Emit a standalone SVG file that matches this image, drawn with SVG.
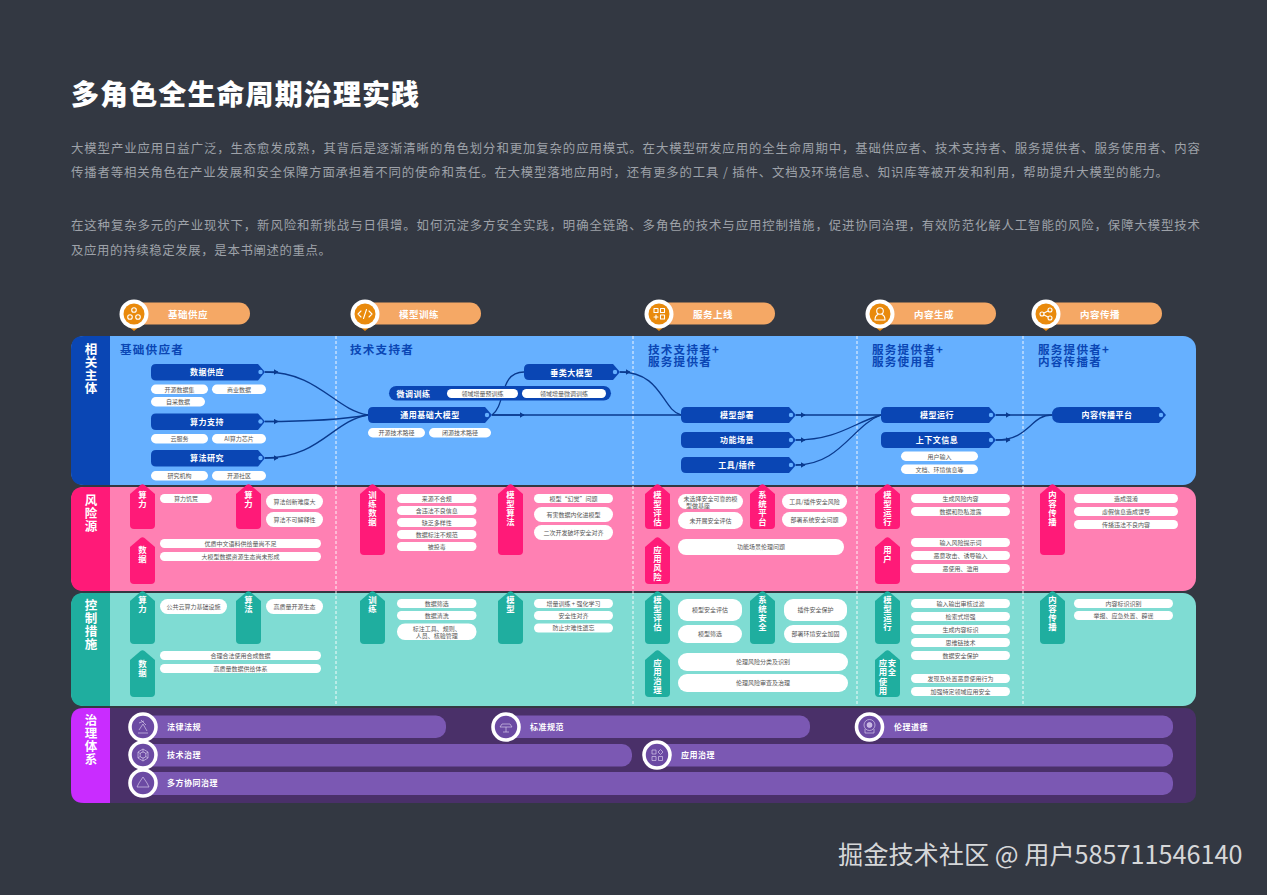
<svg xmlns="http://www.w3.org/2000/svg" xmlns:xlink="http://www.w3.org/1999/xlink" width="1267" height="895" viewBox="0 0 1267 895">
<style>
text{font-family:"Noto Sans CJK SC","Noto Sans",sans-serif}
.title{font-size:28px;font-weight:900;fill:#fff;letter-spacing:1.1px}
.para{font-size:12.4px;fill:#9ea2a9}
.wm{font-size:25.2px;fill:#d6d7d9}
.cat{font-size:9.5px;font-weight:700;fill:#fff;text-anchor:middle;dominant-baseline:central;letter-spacing:.5px}
.pill{fill:#f5a865}
.pin{fill:#e98a0c}
.ring{fill:#fff}
.disc{fill:#e98a0c}
.ico{fill:none;stroke:#fff;stroke-width:1.1;stroke-linecap:round;stroke-linejoin:round}
.role{font-size:11.6px;font-weight:700;fill:#0a46b4;letter-spacing:1.2px}
.head{font-size:12.5px;font-weight:700;fill:#fff;writing-mode:vertical-rl;letter-spacing:.4px}
.n{fill:#0a46b4}
.hole{fill:#66b0ff}
.nt{font-size:8px;font-weight:700;fill:#fff;text-anchor:middle;dominant-baseline:central;letter-spacing:.5px}
.c{fill:#fff}
.ct{font-size:6px;fill:#555;text-anchor:middle;dominant-baseline:central}
.pt{fill:#ff1a78}
.tt{fill:#1fae9f}
.vt{font-size:8.4px;font-weight:700;fill:#fff;writing-mode:vertical-rl;letter-spacing:.6px}
.dash{stroke:#fff;stroke-width:1;stroke-dasharray:3 2;fill:none;opacity:.9}
.conn path{fill:none;stroke:#0a3a8e;stroke-width:1.3}
.bar{fill:#7b58b3}
.pring{fill:none;stroke:#fff;stroke-width:3.6}
.pdisc{fill:#6b4aa3}
.pico{fill:none;stroke:#d5c8ea;stroke-width:.7}
.gt{font-size:8px;font-weight:700;fill:#fff;dominant-baseline:central;letter-spacing:.5px}
</style>
<defs>
<path id="t45" d="M10.500 1 Q12.500 -.5 14.500 1 L25 10 V41 Q25 45 21 45 H4 Q0 45 0 41 V10 Z"/>
<path id="t71" d="M10.500 1 Q12.500 -.5 14.500 1 L25 10 V67 Q25 71 21 71 H4 Q0 71 0 67 V10 Z"/>
<path id="t47" d="M10.500 1 Q12.500 -.5 14.500 1 L25 10 V43 Q25 47 21 47 H4 Q0 47 0 43 V10 Z"/>
<path id="t53" d="M10.500 1 Q12.500 -.5 14.500 1 L25 10 V49 Q25 53 21 53 H4 Q0 53 0 49 V10 Z"/>
<marker id="arr" markerWidth="5" markerHeight="6" refX="4.500" refY="3" orient="auto" markerUnits="userSpaceOnUse"><path d="M0 0 L5 3 L0 6 Z" fill="#0a3a8e"/></marker>
</defs>
<rect width="1267" height="895" fill="#333842"/>
<text class="title" x="71" y="105">多角色全生命周期治理实践</text>
<text class="para" x="71" y="153" textLength="1129">大模型产业应用日益广泛，生态愈发成熟，其背后是逐渐清晰的角色划分和更加复杂的应用模式。在大模型研发应用的全生命周期中，基础供应者、技术支持者、服务提供者、服务使用者、内容</text>
<text class="para" x="71" y="177" textLength="1097">传播者等相关角色在产业发展和安全保障方面承担着不同的使命和责任。在大模型落地应用时，还有更多的工具 / 插件、文档及环境信息、知识库等被开发和利用，帮助提升大模型的能力。</text>
<text class="para" x="71" y="230" textLength="1129">在这种复杂多元的产业现状下，新风险和新挑战与日俱增。如何沉淀多方安全实践，明确全链路、多角色的技术与应用控制措施，促进协同治理，有效防范化解人工智能的风险，保障大模型技术</text>
<text class="para" x="71" y="255" textLength="260">及应用的持续稳定发展，是本书阐述的重点。</text>

<g id="stage-1"><rect class="pill" x="128" y="302.500" width="122" height="22" rx="11"/><path class="pin" d="M128 326 H140 L134 331 Z"/><circle class="ring" cx="134" cy="314" r="14.500"/><circle class="disc" cx="134" cy="314" r="10.500"/><g class="ico"><circle cx="134" cy="310" r="2.300"/><circle cx="130" cy="317" r="2.300"/><circle cx="138" cy="317" r="2.300"/></g><text class="cat" x="188" y="313.500">基础供应</text></g>
<g id="stage-2"><rect class="pill" x="359" y="302.500" width="122" height="22" rx="11"/><path class="pin" d="M359 326 H371 L365 331 Z"/><circle class="ring" cx="365" cy="314" r="14.500"/><circle class="disc" cx="365" cy="314" r="10.500"/><path class="ico" d="M361 311 L358 314 L361 317 M369 311 L372 314 L369 317 M366.500 309.500 L363.500 318.500"/><text class="cat" x="419" y="313.500">模型训练</text></g>
<g id="stage-3"><rect class="pill" x="653" y="302.500" width="122" height="22" rx="11"/><path class="pin" d="M653 326 H665 L659 331 Z"/><circle class="ring" cx="659" cy="314" r="14.500"/><circle class="disc" cx="659" cy="314" r="10.500"/><path class="ico" d="M654 308.500 h4 v4 h-4z M660.500 308.500 h4 v4 h-4z M660.500 315 h4 v4 h-4z M656 315 v4 M654 317 h4"/><text class="cat" x="713" y="313.500">服务上线</text></g>
<g id="stage-4"><rect class="pill" x="874" y="302.500" width="122" height="22" rx="11"/><path class="pin" d="M874 326 H886 L880 331 Z"/><circle class="ring" cx="880" cy="314" r="14.500"/><circle class="disc" cx="880" cy="314" r="10.500"/><g class="ico"><circle cx="880" cy="311" r="3.300"/><path d="M875 320 Q875 315.500 878 314.500 M885 320 Q885 315.500 882 314.500 M875 320 H885"/></g><text class="cat" x="934" y="313.500">内容生成</text></g>
<g id="stage-5"><rect class="pill" x="1040" y="302.500" width="122" height="22" rx="11"/><path class="pin" d="M1040 326 H1052 L1046 331 Z"/><circle class="ring" cx="1046" cy="314" r="14.500"/><circle class="disc" cx="1046" cy="314" r="10.500"/><g class="ico"><circle cx="1042" cy="314" r="2"/><circle cx="1050" cy="310" r="2"/><circle cx="1050" cy="318" r="2"/><path d="M1044 313 L1048 311 M1044 315 L1048 317"/></g><text class="cat" x="1100" y="313.500">内容传播</text></g>

<g id="bands">
<rect x="71" y="336" width="1125" height="149" rx="13" fill="#66b0ff"/>
<path d="M110 336 H84 Q71 336 71 349 V472 Q71 485 84 485 H110 Z" fill="#0a46b4"/>
<rect x="71" y="487" width="1125" height="104" rx="13" fill="#ff80b3"/>
<path d="M110 487 H84 Q71 487 71 500 V578 Q71 591 84 591 H110 Z" fill="#ff1a78"/>
<rect x="71" y="593" width="1125" height="113" rx="13" fill="#7fdcd3"/>
<path d="M110 593 H84 Q71 593 71 606 V693 Q71 706 84 706 H110 Z" fill="#1fae9f"/>
<rect x="71" y="708" width="1125" height="95" rx="10" fill="#4a3069"/>
<path d="M110 708 H84 Q71 708 71 721 V790 Q71 803 84 803 H110 Z" fill="#c92cff"/>
<text class="head" x="91" y="343">相关主体</text>
<text class="head" x="91" y="494">风险源</text>
<text class="head" x="91" y="599">控制措施</text>
<text class="head" x="91" y="714">治理体系</text>
</g>
<g id="dividers">
<path class="dash" d="M336 336 V706 M633 336 V706 M857 336 V706 M1023 336 V706"/>
</g>

<g id="roles">
<text class="role" x="120" y="354">基础供应者</text>
<text class="role" x="350" y="354">技术支持者</text>
<text class="role" x="648" y="354">技术支持者+<tspan x="648" dy="12.300">服务提供者</tspan></text>
<text class="role" x="872" y="354">服务提供者+<tspan x="872" dy="12.300">服务使用者</tspan></text>
<text class="role" x="1038" y="354">服务提供者+<tspan x="1038" dy="12.300">内容传播者</tspan></text>
</g>

<g id="connectors" class="conn">
<path d="M265 372 C318 372 335 410 368 415"/><path d="M265 372 H278" marker-end="url(#arr)"/>
<path d="M265 421.500 C300 421.500 340 420 368 415"/><path d="M265 421.500 H278" marker-end="url(#arr)"/>
<path d="M265 458 C320 458 332 421 368 415"/><path d="M265 458 H278" marker-end="url(#arr)"/>
<path d="M492 415 C506 405 499 372 524 372"/>
<path d="M492 415 H681"/><path d="M492 415 H524" marker-end="url(#arr)"/>
<path d="M620 372 C662 372 662 410 681 415"/><path d="M620 372 H630" marker-end="url(#arr)"/>
<path d="M796 415 H881"/><path d="M796 415 H805" marker-end="url(#arr)"/>
<path d="M796 440 C838 440 855 422 881 415"/><path d="M796 440 H805" marker-end="url(#arr)"/>
<path d="M796 465 C840 465 853 425 881 415"/><path d="M796 465 H805" marker-end="url(#arr)"/>
<path d="M996 415 H1052"/><path d="M996 415 H1010" marker-end="url(#arr)"/>
<path d="M996 440 C1030 440 1030 415 1052 415"/><path d="M996 440 H1010" marker-end="url(#arr)"/>
</g>

<g id="node-data-supply"><path class="n" d="M156 364 H258 L265 372 L258 380.500 H156 Q151 380.500 151 375.500 V369 Q151 364 156 364Z"/><circle class="hole" cx="260.500" cy="372" r="2.200"/><text class="nt" x="207" y="371.500">数据供应</text>
<rect class="c" x="151" y="384.500" width="57" height="9.500" rx="4.750"/><text class="ct" x="179.500" y="389.200">开源数据集</text>
<rect class="c" x="212" y="384.500" width="54" height="9.500" rx="4.750"/><text class="ct" x="239" y="389.200">商业数据</text>
<rect class="c" x="151" y="397" width="54" height="9.500" rx="4.750"/><text class="ct" x="178" y="401.700">自采数据</text></g>
<g id="node-compute"><path class="n" d="M156 413.500 H258 L265 421.500 L258 430 H156 Q151 430 151 425 V418.500 Q151 413.500 156 413.500Z"/><circle class="hole" cx="260.500" cy="421.500" r="2.200"/><text class="nt" x="207" y="421">算力支持</text>
<rect class="c" x="151" y="434" width="57" height="9.500" rx="4.750"/><text class="ct" x="179.500" y="438.700">云服务</text>
<rect class="c" x="212" y="434" width="54" height="9.500" rx="4.750"/><text class="ct" x="239" y="438.700">AI算力芯片</text></g>
<g id="node-algorithm"><path class="n" d="M156 450 H258 L265 458 L258 466.500 H156 Q151 466.500 151 461.500 V455 Q151 450 156 450Z"/><circle class="hole" cx="260.500" cy="458" r="2.200"/><text class="nt" x="207" y="457.500">算法研究</text>
<rect class="c" x="151" y="471" width="57" height="9.500" rx="4.750"/><text class="ct" x="179.500" y="475.700">研究机构</text>
<rect class="c" x="212" y="471" width="54" height="9.500" rx="4.750"/><text class="ct" x="239" y="475.700">开源社区</text></g>

<g id="node-finetune"><rect class="n" x="389" y="386" width="222" height="14.500" rx="7.250"/><text class="nt" x="413.500" y="393">微调训练</text>
<rect class="c" x="447" y="389" width="71" height="9" rx="4.500"/><text class="ct" x="482.500" y="393.400">领域增量预训练</text>
<rect class="c" x="522" y="389" width="84" height="9" rx="4.500"/><text class="ct" x="564" y="393.400">领域增量微调训练</text></g>
<g id="node-base-model"><path class="n" d="M373 407 H485 L492 415 L485 423 H373 Q368 423 368 418 V412 Q368 407 373 407Z"/><circle class="hole" cx="487" cy="415" r="2.200"/><text class="nt" x="430" y="414.500">通用基础大模型</text>
<rect class="c" x="368" y="428" width="57" height="9.500" rx="4.750"/><text class="ct" x="396.500" y="432.700">开源技术路径</text>
<rect class="c" x="429" y="428" width="62" height="9.500" rx="4.750"/><text class="ct" x="460" y="432.700">闭源技术路径</text></g>
<g id="node-vertical-model"><path class="n" d="M529 364 H613 L620 372 L613 380 H529 Q524 380 524 375 V369 Q524 364 529 364Z"/><circle class="hole" cx="615" cy="372" r="2.200"/><text class="nt" x="571.500" y="372">垂类大模型</text></g>

<g id="node-deploy"><path class="n" d="M686 407 H789 L796 415 L789 423 H686 Q681 423 681 418 V412 Q681 407 686 407Z"/><circle class="hole" cx="791" cy="415" r="2.200"/><text class="nt" x="737" y="414.500">模型部署</text></g>
<g id="node-scenario"><path class="n" d="M686 432 H789 L796 440 L789 448 H686 Q681 448 681 443 V437 Q681 432 686 432Z"/><circle class="hole" cx="791" cy="440" r="2.200"/><text class="nt" x="737" y="439.500">功能场景</text></g>
<g id="node-tools"><path class="n" d="M686 457 H789 L796 465 L789 473 H686 Q681 473 681 468 V462 Q681 457 686 457Z"/><circle class="hole" cx="791" cy="465" r="2.200"/><text class="nt" x="737" y="464.500">工具/插件</text></g>
<g id="node-run"><path class="n" d="M886 407 H989 L996 415 L989 423 H886 Q881 423 881 418 V412 Q881 407 886 407Z"/><circle class="hole" cx="991" cy="415" r="2.200"/><text class="nt" x="937" y="414.500">模型运行</text></g>
<g id="node-context"><path class="n" d="M886 432 H989 L996 440 L989 448 H886 Q881 448 881 443 V437 Q881 432 886 432Z"/><circle class="hole" cx="991" cy="440" r="2.200"/><text class="nt" x="937" y="439.500">上下文信息</text>
<rect class="c" x="901" y="451.500" width="77" height="9.500" rx="4.750"/><text class="ct" x="939.500" y="456.200">用户输入</text>
<rect class="c" x="901" y="464.500" width="77" height="9.500" rx="4.750"/><text class="ct" x="939.500" y="469.200">文档、环境信息等</text></g>
<g id="node-platform"><path class="n" d="M1060 407 H1159 L1166 415 L1159 423 H1060 Q1052 423 1052 415 Q1052 407 1060 407Z"/><circle class="hole" cx="1161" cy="415" r="2.200"/><text class="nt" x="1107" y="414.500">内容传播平台</text></g>

<g id="risk-tags" class="pt">
<use href="#t45" x="130" y="484"/><use href="#t45" x="236" y="484"/><use href="#t47" x="130" y="537"/>
<use href="#t71" x="360" y="484"/><use href="#t71" x="498" y="484"/>
<use href="#t45" x="645" y="484"/><use href="#t45" x="750" y="484"/><use href="#t47" x="645" y="537"/>
<use href="#t45" x="875" y="484"/><use href="#t47" x="875" y="537"/><use href="#t71" x="1040" y="484"/>
</g>
<g id="risk-tag-labels">
<text class="vt" x="142.500" y="491">算力</text><text class="vt" x="248.500" y="491">算力</text><text class="vt" x="142.500" y="545.500">数据</text>
<text class="vt" x="372.500" y="491">训练数据</text><text class="vt" x="510.500" y="491">模型算法</text>
<text class="vt" x="657.500" y="491">模型评估</text><text class="vt" x="762.500" y="491">系统平台</text><text class="vt" x="657.500" y="545.500">应用风险</text>
<text class="vt" x="887.500" y="491">模型运行</text><text class="vt" x="887.500" y="545.500">用户</text><text class="vt" x="1052.500" y="491">内容传播</text>
</g>
<g id="risk-items">
<rect class="c" x="160" y="494" width="52" height="9" rx="4.500"/><text class="ct" x="186" y="498.400">算力饥荒</text>
<rect class="c" x="266" y="494" width="57" height="15" rx="7.500"/><text class="ct" x="294.500" y="501.400">算法创新难度大</text>
<rect class="c" x="266" y="512" width="57" height="15" rx="7.500"/><text class="ct" x="294.500" y="519.400">算法不可解释性</text>
<rect class="c" x="160" y="539" width="161" height="9" rx="4.500"/><text class="ct" x="240.500" y="543.400">优质中文语料供给量尚不足</text>
<rect class="c" x="160" y="552" width="161" height="9" rx="4.500"/><text class="ct" x="240.500" y="556.400">大模型数据资源生态尚未形成</text>
<rect class="c" x="397" y="494" width="79.500" height="9" rx="4.500"/><text class="ct" x="436.700" y="498.400">来源不合规</text>
<rect class="c" x="397" y="506" width="79.500" height="9" rx="4.500"/><text class="ct" x="436.700" y="510.400">含违法不良信息</text>
<rect class="c" x="397" y="518" width="79.500" height="9" rx="4.500"/><text class="ct" x="436.700" y="522.400">缺乏多样性</text>
<rect class="c" x="397" y="530" width="79.500" height="9" rx="4.500"/><text class="ct" x="436.700" y="534.400">数据标注不规范</text>
<rect class="c" x="397" y="542" width="79.500" height="9" rx="4.500"/><text class="ct" x="436.700" y="546.400">被投毒</text>
<rect class="c" x="534" y="494" width="79" height="9" rx="4.500"/><text class="ct" x="573.500" y="498.400">模型“幻觉”问题</text>
<rect class="c" x="534" y="507" width="79" height="15" rx="7.500"/><text class="ct" x="573.500" y="514.400">有害数据内化进模型</text>
<rect class="c" x="534" y="525" width="79" height="15" rx="7.500"/><text class="ct" x="573.500" y="532.400">二次开发破坏安全对齐</text>
<rect class="c" x="678" y="494" width="65" height="15" rx="7.500"/><text class="ct" x="710.500" y="498.200">未选择安全可靠的模</text><text class="ct" x="698" y="505">型做基座</text>
<rect class="c" x="678" y="512" width="65" height="17" rx="8.500"/><text class="ct" x="710.500" y="520.400">未开展安全评估</text>
<rect class="c" x="782" y="494" width="65" height="15" rx="7.500"/><text class="ct" x="814.500" y="501.400">工具/插件安全风险</text>
<rect class="c" x="782" y="512" width="65" height="15" rx="7.500"/><text class="ct" x="814.500" y="519.400">部署系统安全问题</text>
<rect class="c" x="678" y="539" width="166" height="16" rx="8"/><text class="ct" x="761" y="546.900">功能场景伦理问题</text>
<rect class="c" x="911" y="494" width="99" height="9" rx="4.500"/><text class="ct" x="960.500" y="498.400">生成风险内容</text>
<rect class="c" x="911" y="507" width="99" height="9" rx="4.500"/><text class="ct" x="960.500" y="511.400">数据和隐私泄露</text>
<rect class="c" x="911" y="538" width="99" height="9" rx="4.500"/><text class="ct" x="960.500" y="542.400">输入风险提示词</text>
<rect class="c" x="911" y="551" width="99" height="9" rx="4.500"/><text class="ct" x="960.500" y="555.400">恶意攻击、诱导输入</text>
<rect class="c" x="911" y="564" width="99" height="9" rx="4.500"/><text class="ct" x="960.500" y="568.400">恶使用、滥用</text>
<rect class="c" x="1074" y="494" width="104" height="9" rx="4.500"/><text class="ct" x="1126" y="498.400">造成混淆</text>
<rect class="c" x="1074" y="507" width="104" height="9" rx="4.500"/><text class="ct" x="1126" y="511.400">虚假信息造成误导</text>
<rect class="c" x="1074" y="520" width="104" height="9" rx="4.500"/><text class="ct" x="1126" y="524.400">传播违法不良内容</text>
</g>

<g id="control-tags" class="tt">
<use href="#t53" x="130" y="591"/><use href="#t53" x="236" y="591"/><use href="#t47" x="130" y="650"/>
<use href="#t53" x="360" y="591"/><use href="#t53" x="498" y="591"/>
<use href="#t53" x="645" y="591"/><use href="#t53" x="750" y="591"/><use href="#t47" x="645" y="650"/>
<use href="#t53" x="875" y="591"/><use href="#t47" x="875" y="650"/><use href="#t53" x="1040" y="591"/>
</g>
<g id="control-tag-labels">
<text class="vt" x="142.500" y="596">算力</text><text class="vt" x="248.500" y="596">算法</text><text class="vt" x="142.500" y="659.500">数据</text>
<text class="vt" x="372.500" y="596">训练</text><text class="vt" x="510.500" y="596">模型</text>
<text class="vt" x="657.500" y="596">模型评估</text><text class="vt" x="762.500" y="596">系统安全</text><text class="vt" x="657.500" y="659">应用治理</text>
<text class="vt" x="887.500" y="596">模型运行</text><text class="vt" x="883" y="659">应用</text><text class="vt" x="892" y="659">安全</text><text class="vt" x="883" y="677.500">使用</text><text class="vt" x="1052.500" y="596">内容传播</text>
</g>
<g id="control-items">
<rect class="c" x="160" y="599" width="67" height="15" rx="7.500"/><text class="ct" x="193.500" y="606.400">公共云算力基础设施</text>
<rect class="c" x="266" y="599" width="57" height="15" rx="7.500"/><text class="ct" x="294.500" y="606.400">高质量开源生态</text>
<rect class="c" x="160" y="651" width="161" height="9" rx="4.500"/><text class="ct" x="240.500" y="655.400">合理合法使用合成数据</text>
<rect class="c" x="160" y="664" width="161" height="9" rx="4.500"/><text class="ct" x="240.500" y="668.400">高质量数据供给体系</text>
<rect class="c" x="397" y="599" width="79.500" height="9" rx="4.500"/><text class="ct" x="436.700" y="603.400">数据筛选</text>
<rect class="c" x="397" y="611" width="79.500" height="9" rx="4.500"/><text class="ct" x="436.700" y="615.400">数据清洗</text>
<rect class="c" x="397" y="623.500" width="79.500" height="16.500" rx="8"/><text class="ct" x="436.700" y="628.500">标注工具、规则、</text><text class="ct" x="436.700" y="635.500">人员、核验管理</text>
<rect class="c" x="534" y="599" width="79" height="9" rx="4.500"/><text class="ct" x="573.500" y="603.400">增量训练 + 强化学习</text>
<rect class="c" x="534" y="611" width="79" height="9" rx="4.500"/><text class="ct" x="573.500" y="615.400">安全性对齐</text>
<rect class="c" x="534" y="623.500" width="79" height="9" rx="4.500"/><text class="ct" x="573.500" y="627.900">防止灾难性遗忘</text>
<rect class="c" x="678" y="599" width="64" height="22" rx="9"/><text class="ct" x="710" y="609.900">模型安全评估</text>
<rect class="c" x="678" y="625" width="64" height="18" rx="9"/><text class="ct" x="710" y="633.900">模型筛选</text>
<rect class="c" x="784" y="599" width="63" height="22" rx="9"/><text class="ct" x="815.500" y="609.900">插件安全保护</text>
<rect class="c" x="784" y="625" width="63" height="18" rx="9"/><text class="ct" x="815.500" y="633.900">部署环境安全加固</text>
<rect class="c" x="678" y="653" width="170" height="18" rx="9"/><text class="ct" x="763" y="661.900">伦理风险分类及识别</text>
<rect class="c" x="678" y="674" width="170" height="18" rx="9"/><text class="ct" x="763" y="682.900">伦理风险审查及治理</text>
<rect class="c" x="911" y="599" width="99" height="9" rx="4.500"/><text class="ct" x="960.500" y="603.400">输入输出审核过滤</text>
<rect class="c" x="911" y="612" width="99" height="9" rx="4.500"/><text class="ct" x="960.500" y="616.400">检索式增强</text>
<rect class="c" x="911" y="625" width="99" height="9" rx="4.500"/><text class="ct" x="960.500" y="629.400">生成内容标识</text>
<rect class="c" x="911" y="638" width="99" height="9" rx="4.500"/><text class="ct" x="960.500" y="642.400">思维链技术</text>
<rect class="c" x="911" y="651" width="99" height="9" rx="4.500"/><text class="ct" x="960.500" y="655.400">数据安全保护</text>
<rect class="c" x="911" y="674" width="99" height="9" rx="4.500"/><text class="ct" x="960.500" y="678.400">发现及处置恶意使用行为</text>
<rect class="c" x="911" y="687" width="99" height="9" rx="4.500"/><text class="ct" x="960.500" y="691.400">加强特定领域应用安全</text>
<rect class="c" x="1074" y="599" width="99" height="9" rx="4.500"/><text class="ct" x="1123.500" y="603.400">内容标识识别</text>
<rect class="c" x="1074" y="611" width="99" height="9" rx="4.500"/><text class="ct" x="1123.500" y="615.400">举报、应急处置、辟谣</text>
</g>

<g id="gov-law"><rect class="bar" x="143" y="715.500" width="303" height="22.500" rx="10"/><circle class="pdisc" cx="143" cy="727" r="12"/><circle class="pring" cx="143" cy="727" r="13"/><path class="pico" d="M138 733 H148 M141 720 L146 725 M139 723 L144 721 M143 724 L147 731 M139 730 L143 724"/><text class="gt" x="167" y="726.500">法律法规</text></g>
<g id="gov-standard"><rect class="bar" x="506" y="715.500" width="304" height="22.500" rx="10"/><circle class="pdisc" cx="506" cy="727" r="12"/><circle class="pring" cx="506" cy="727" r="13"/><path class="pico" d="M500 727 H512 L510 724 H502 Z M506 727 V732 M503 732 H509"/><text class="gt" x="530" y="726.500">标准规范</text></g>
<g id="gov-ethics"><rect class="bar" x="869.500" y="715.500" width="303.500" height="22.500" rx="10"/><circle class="pdisc" cx="869.500" cy="727" r="12"/><circle class="pring" cx="869.500" cy="727" r="13"/><g class="pico"><circle cx="869.500" cy="725" r="5.500"/><circle cx="869.500" cy="725" r="2.500" fill="#c9b6e6"/><path d="M865 729 V733 H874 V729"/></g><text class="gt" x="894" y="726.500">伦理道德</text></g>
<g id="gov-tech"><rect class="bar" x="143" y="744" width="489" height="22.500" rx="10"/><circle class="pdisc" cx="143" cy="755" r="12"/><circle class="pring" cx="143" cy="755" r="13"/><g class="pico"><circle cx="143" cy="755" r="3"/><path d="M143 749 L148 752 V758 L143 761 L138 758 V752 Z M143 749 V752 M148 752 L146 753.500 M148 758 L146 756.500 M143 761 V758 M138 758 L140 756.500 M138 752 L140 753.500"/></g><text class="gt" x="167" y="754.500">技术治理</text></g>
<g id="gov-app"><rect class="bar" x="657" y="744" width="516" height="22.500" rx="10"/><circle class="pdisc" cx="657" cy="755" r="12"/><circle class="pring" cx="657" cy="755" r="13"/><path class="pico" d="M652 750 h4 v4 h-4z M652 756.500 h4 v4 h-4z M658.500 756.500 h4 v4 h-4z M660.500 749.500 l2.500 2.500 l-2.500 2.500 l-2.500 -2.500z"/><text class="gt" x="681" y="754.500">应用治理</text></g>
<g id="gov-multi"><rect class="bar" x="143" y="772" width="1030" height="23" rx="10"/><circle class="pdisc" cx="143" cy="783" r="12"/><circle class="pring" cx="143" cy="783" r="13"/><path class="pico" d="M143 777 L147 783 L149 787 H137 L139 783 Z"/><text class="gt" x="167" y="782.500">多方协同治理</text></g>

<text class="wm" x="838" y="864">掘金技术社区 @ 用户585711546140</text>
</svg>
